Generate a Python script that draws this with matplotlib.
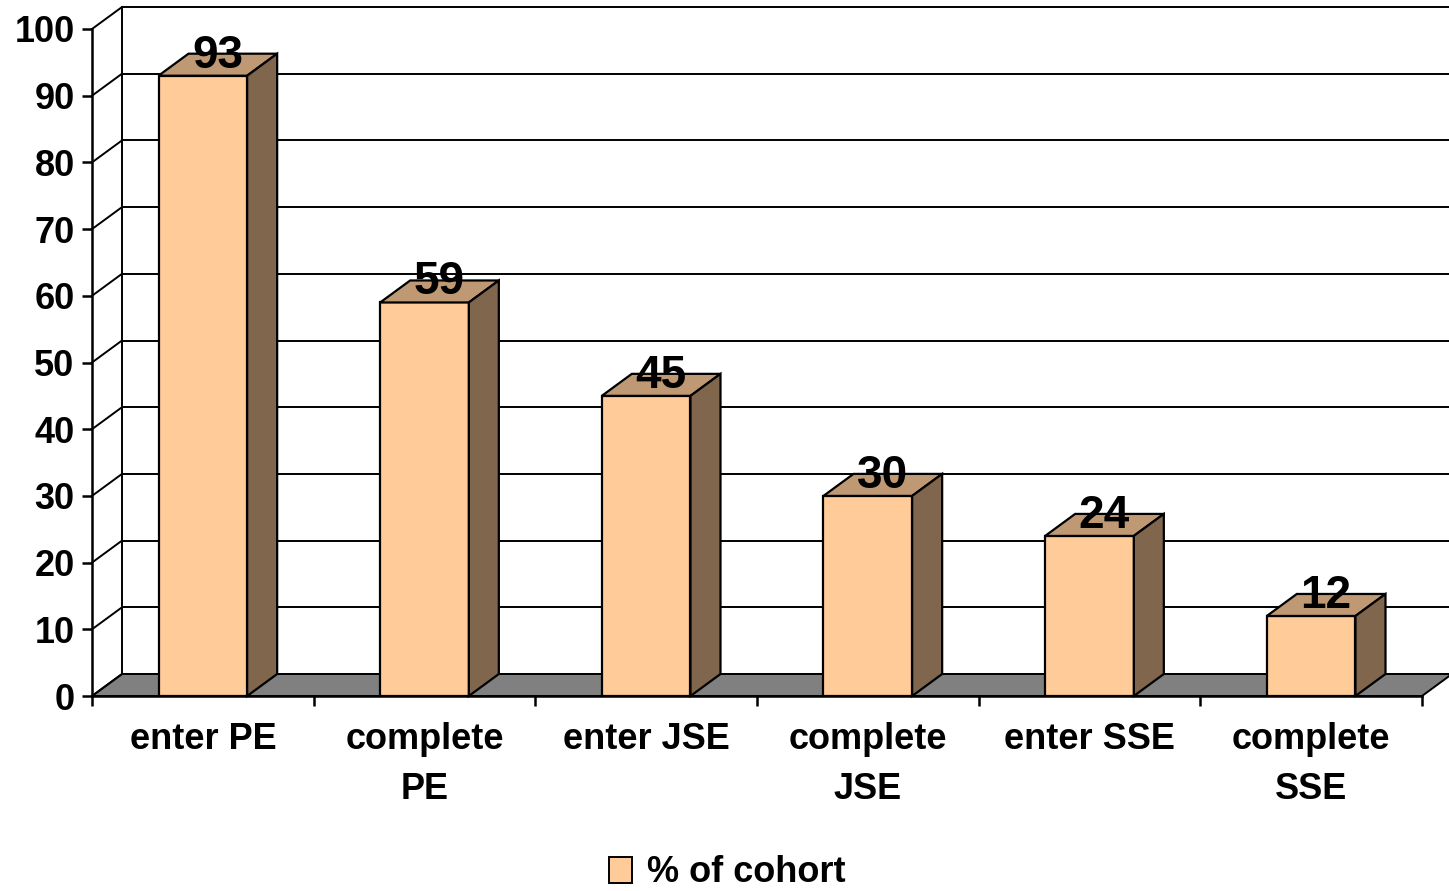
import matplotlib
matplotlib.use("Agg")
import matplotlib.pyplot as plt
from matplotlib.patches import Polygon, Patch

categories = ["enter PE", "complete\nPE", "enter JSE", "complete\nJSE", "enter SSE", "complete\nSSE"]
values = [93, 59, 45, 30, 24, 12]
yticks = [0, 10, 20, 30, 40, 50, 60, 70, 80, 90, 100]
series_name = "% of cohort"

FRONT = "#FFCC99"
TOP = "#BF9973"
SIDE = "#80664D"
FLOOR = "#808080"

plt.rcParams['font.family'] = ['Liberation Sans', 'DejaVu Sans']
plt.rcParams['font.weight'] = 'bold'

W, H = 1449, 891
fig = plt.figure(figsize=(W / 100, H / 100), dpi=100)

n = len(categories)
catw = (1422 - 92) / n          # px per category
ppu = 6.67                      # px per value unit
dx = 30 / catw                  # depth offset in category units
dy = 22 / ppu                   # depth offset in value units
y0px = 696
ytop = (y0px - 6) / ppu
left = 92 / W
width = (n + dx) * catw / W
bottom = (H - y0px) / H
height = ytop * ppu / H
ax = fig.add_axes([left, bottom, width, height])
ax.set_xlim(0, n + dx)
ax.set_ylim(0, ytop)

lw_grid = 1.4
# floor
ax.add_patch(Polygon([(0, 0), (n, 0), (n + dx, dy), (dx, dy)], closed=True,
                     facecolor=FLOOR, edgecolor="black", lw=lw_grid, zorder=1, clip_on=False))
# walls / gridlines
for v in yticks:
    ax.plot([dx, n + dx], [v + dy, v + dy], color="black", lw=lw_grid, zorder=1.5, clip_on=False)
    ax.plot([0, dx], [v, v + dy], color="black", lw=lw_grid, zorder=1.5, clip_on=False)
ax.plot([dx, dx], [dy, yticks[-1] + dy], color="black", lw=lw_grid, zorder=1.5, clip_on=False)

# bars
bw = 0.4
xs = [i + 0.5 for i in range(n)]
ax.bar(xs, values, width=bw, color=FRONT, edgecolor="black", linewidth=1.6, zorder=3)
for x, v in zip(xs, values):
    l, r = x - bw / 2, x + bw / 2
    ax.add_patch(Polygon([(l, v), (r, v), (r + dx, v + dy), (l + dx, v + dy)], closed=True,
                         facecolor=TOP, edgecolor="black", lw=1.6, zorder=3, clip_on=False))
    ax.add_patch(Polygon([(r, 0), (r + dx, dy), (r + dx, v + dy), (r, v)], closed=True,
                         facecolor=SIDE, edgecolor="black", lw=1.6, zorder=3, clip_on=False))
    ax.text(x + dx / 2, v + 1.2, f"{v}", ha="center", va="baseline", fontsize=33,
            fontweight="bold", zorder=5)

# axes
for s in ["top", "right"]:
    ax.spines[s].set_visible(False)
ax.spines["left"].set_bounds(0, 100)
ax.spines["bottom"].set_bounds(0, n)
for s in ["left", "bottom"]:
    ax.spines[s].set_linewidth(1.8)
    ax.spines[s].set_zorder(4)
ax.set_yticks(yticks)
ax.set_yticklabels([str(t) for t in yticks], fontsize=26, fontweight="bold")
ax.tick_params(axis="y", length=7.5, width=1.8, pad=5)
ax.set_xticks(range(n + 1))
ax.set_xticklabels([""] * (n + 1))
ax.set_xticks(xs, minor=True)
ax.set_xticklabels(categories, minor=True, fontsize=26, fontweight="bold", linespacing=1.55)
ax.tick_params(axis="x", which="major", length=7.5, width=1.8)
ax.tick_params(axis="x", which="minor", length=0, pad=19)
ax.patch.set_visible(False)

fig.legend(handles=[Patch(facecolor=FRONT, edgecolor="black", lw=1.4)], labels=[series_name],
           loc="center", bbox_to_anchor=(727 / W, 1 - 873 / H), frameon=False,
           prop={"size": 26, "weight": "bold"}, handlelength=0.65, handleheight=0.7,
           handletextpad=0.4)

fig.savefig("out.png", dpi=100)
